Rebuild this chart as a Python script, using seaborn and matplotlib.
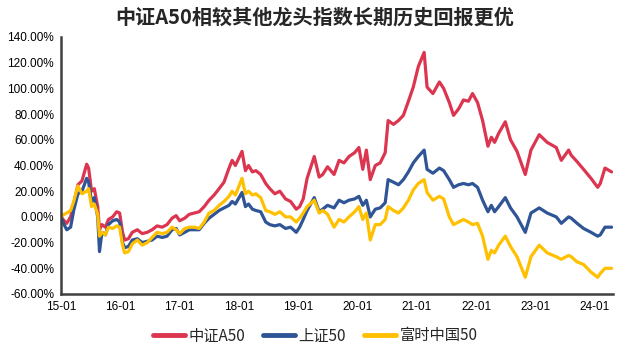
import matplotlib
matplotlib.use("Agg")
import matplotlib.pyplot as plt
import matplotlib.dates as mdates
import matplotlib.ticker as mticker
import seaborn as sns
import pandas as pd

# 累计收益率 (%)
dates = [
    "2015-01-01", "2015-01-20", "2015-02-05", "2015-03-01", "2015-03-20", "2015-04-15",
    "2015-05-10", "2015-06-08", "2015-06-20", "2015-07-08", "2015-07-25", "2015-08-15",
    "2015-08-26", "2015-09-10", "2015-10-01", "2015-10-20", "2015-11-15", "2015-12-10",
    "2015-12-28", "2016-01-15", "2016-01-28", "2016-02-20", "2016-03-15", "2016-04-15",
    "2016-05-15", "2016-06-15", "2016-07-15", "2016-08-15", "2016-09-15", "2016-10-15",
    "2016-11-15", "2016-12-10", "2017-01-01", "2017-02-01", "2017-03-01", "2017-04-01",
    "2017-05-01", "2017-06-01", "2017-07-01", "2017-08-01", "2017-09-01", "2017-10-01",
    "2017-11-01", "2017-11-20", "2017-12-10", "2018-01-20", "2018-02-10", "2018-03-01",
    "2018-03-25", "2018-04-15", "2018-05-15", "2018-06-15", "2018-07-10", "2018-08-10",
    "2018-09-10", "2018-10-15", "2018-11-15", "2018-12-20", "2019-01-10", "2019-02-01",
    "2019-02-25", "2019-04-10", "2019-05-10", "2019-06-01", "2019-07-01", "2019-08-10",
    "2019-09-10", "2019-10-10", "2019-11-10", "2019-12-15", "2020-01-10", "2020-02-03",
    "2020-02-25", "2020-03-20", "2020-04-20", "2020-05-20", "2020-06-20", "2020-07-08",
    "2020-08-10", "2020-09-10", "2020-10-10", "2020-11-10", "2020-12-10", "2021-01-10",
    "2021-02-15", "2021-03-05", "2021-04-10", "2021-05-20", "2021-06-15", "2021-07-20",
    "2021-08-15", "2021-09-15", "2021-10-15", "2021-11-15", "2021-12-10", "2022-01-10",
    "2022-02-10", "2022-03-15", "2022-04-05", "2022-04-25", "2022-05-20", "2022-06-30",
    "2022-08-01", "2022-09-10", "2022-10-31", "2022-12-05", "2023-01-25", "2023-03-15",
    "2023-05-10", "2023-06-10", "2023-07-25", "2023-08-10", "2023-09-15", "2023-10-25",
    "2023-12-10", "2024-01-20", "2024-02-05", "2024-03-05", "2024-04-15",
]

a50 = [
    0, -3, -5, 0, 10, 25, 28, 41, 38, 20, 22, 8,
    -10, -6, -8, -2, 0, 4, 3, -12, -18, -17, -12, -10,
    -13, -12, -10, -7, -8, -6, -1, 1, -3, -1, 2, 3,
    4, 8, 13, 17, 22, 27, 38, 44, 40, 51, 36, 40,
    35, 36, 33, 26, 22, 18, 20, 14, 12, 6, 8, 14,
    30, 47, 31, 33, 39, 33, 44, 42, 47, 50, 54, 37,
    52, 29, 40, 42, 50, 75, 72, 75, 79, 90, 101, 117,
    128, 101, 96, 105, 100, 89, 79, 84, 91, 90, 96, 89,
    75, 55, 62, 58, 65, 74, 60, 51, 33, 52, 64, 58,
    54, 44, 52, 48, 43, 37, 30, 23, 26, 38, 35,
]

sz50 = [
    0, -6, -10, -8, 5, 18, 20, 30, 27, 12, 15, 0,
    -27, -12, -14, -6, -3, -2, -4, -20, -24, -23, -18, -17,
    -20, -19, -18, -15, -16, -15, -10, -9, -14, -12, -10, -10,
    -10, -5, -1, 2, 5, 7, 9, 12, 10, 19, 8, 10,
    6, 5, 4, -4, -6, -7, -6, -9, -8, -12, -8, -2,
    5, 15, 4, 6, 9, 7, 13, 11, 13, 14, 16, 9,
    13, 0, 6, 7, 11, 29, 27, 25, 29, 35, 42, 47,
    52, 37, 34, 38, 36, 29, 23, 25, 26, 25, 26, 23,
    13, 4, 9, 4, 8, 15, 7, 0, -12, 3, 7, 3,
    0, -5, 0, -1, -5, -9, -12, -15, -14, -8, -8,
]

ftse50 = [
    0, 2, 3, 5, 12, 24, 18, 20, 22, 8, 10, 2,
    -15, -12, -14, -8, -9, -7, -8, -22, -28, -27, -21, -18,
    -22, -20, -16, -12, -13, -12, -8, -10, -13, -9, -8, -8,
    -9, -4, 3, 5, 9, 12, 16, 20, 17, 30, 18, 20,
    17, 18, 15, 5, 4, 2, 4, 0, 0, -4, -1, 3,
    8, 13, 3, 5, 2, -8, -2, -4, 0, 4, 8, -2,
    3, -18, -6, -6, -2, 8, 5, 3, 7, 13, 21, 26,
    29, 19, 13, 16, 14, 0, -6, -4, -2, -4, -6, -5,
    -15, -33, -26, -28, -22, -15, -23, -31, -47, -31, -22, -28,
    -31, -33, -30, -31, -35, -37, -43, -47, -44, -40, -40,
]

series_names = ["中证A50", "上证50", "富时中国50"]
colors = ["#DC3550", "#2F5597", "#FFC000"]

df = pd.concat([
    pd.DataFrame({"date": pd.to_datetime(dates), "ret": vals, "index": name})
    for name, vals in zip(series_names, [a50, sz50, ftse50])
])

sns.set_style("white")
plt.rcParams["font.family"] = ["Liberation Sans", "Noto Sans CJK SC", "DejaVu Sans"]

fig = plt.figure(figsize=(6.24, 3.51), dpi=100)
ax = fig.add_axes([0.0978, 0.1624, 0.8842, 0.7322])

sns.lineplot(data=df, x="date", y="ret", hue="index", hue_order=series_names,
             palette=colors, linewidth=2.3, ax=ax, legend=False)

ax.set_ylim(-60, 140)
ax.set_yticks(range(-60, 141, 20))
ax.yaxis.set_major_formatter(mticker.FuncFormatter(lambda v, p: f"{v:.2f}%"))
ax.set_xlim(pd.Timestamp("2015-01-01"), pd.Timestamp("2024-04-22"))
ax.set_xticks(pd.date_range("2015-01-01", "2024-01-01", freq="YS"))
ax.xaxis.set_major_formatter(mdates.DateFormatter("%y-%m"))
ax.set_xlabel("")
ax.set_ylabel("")

for side in ["top", "right"]:
    ax.spines[side].set_visible(False)
for side in ["left", "bottom"]:
    ax.spines[side].set_color("#404040")
    ax.spines[side].set_linewidth(1.8)
ax.tick_params(axis="both", which="major", direction="out", length=3, width=1.5,
               color="#404040", labelsize=8.5, labelcolor="black", pad=2)

fig.text(0.505, 0.952, "中证A50相较其他龙头指数长期历史回报更优",
         ha="center", va="center", fontsize=14.5, fontweight="bold",
         family=["Noto Sans CJK SC", "DejaVu Sans"])

handles = [plt.Line2D([], [], color=c, linewidth=3.5, solid_capstyle="round") for c in colors]
fig.legend(handles, series_names, loc="center", bbox_to_anchor=(0.505, 0.043), ncol=3,
           frameon=False, handlelength=2.1, handletextpad=0.2, columnspacing=1.2,
           prop={"family": ["Noto Sans CJK SC", "DejaVu Sans"], "size": 11})

fig.savefig("out.png", dpi=100)
